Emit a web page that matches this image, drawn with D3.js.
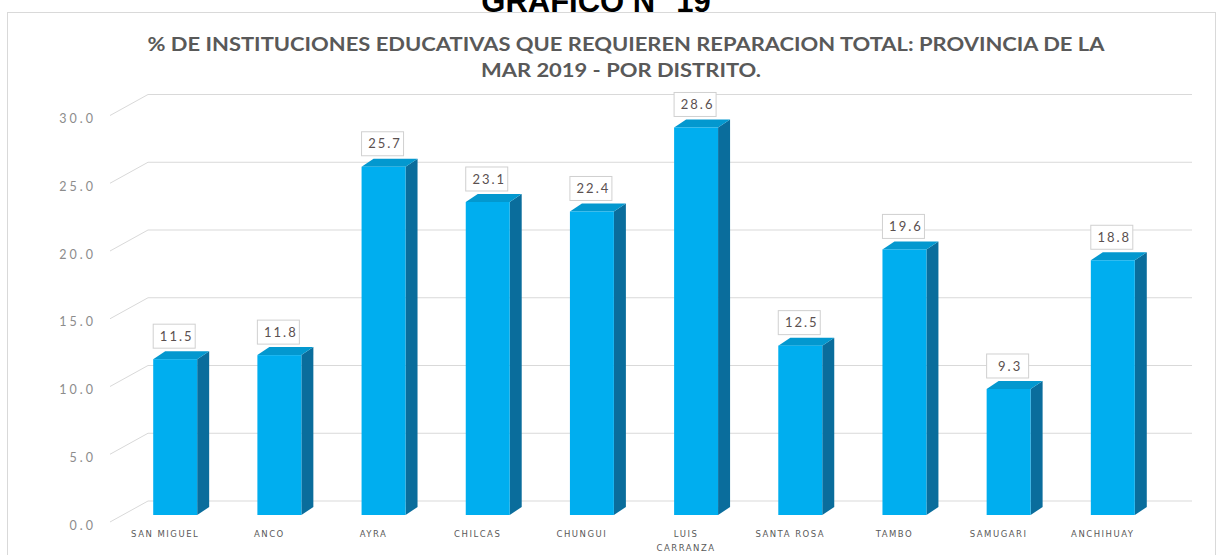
<!DOCTYPE html>
<html>
<head>
<meta charset="utf-8">
<script src="https://cdn.jsdelivr.net/npm/d3@7"></script>
<style>
  html, body { margin: 0; padding: 0; background: #fff; }
  svg { display: block; }
</style>
</head>
<body>
<svg id="chart" width="1224" height="555"></svg>
<script>
// ---- data ----
const categories = ["SAN MIGUEL", "ANCO", "AYRA", "CHILCAS", "CHUNGUI", "LUIS CARRANZA", "SANTA ROSA", "TAMBO", "SAMUGARI", "ANCHIHUAY"];
const values = [11.5, 11.8, 25.7, 23.1, 22.4, 28.6, 12.5, 19.6, 9.3, 18.8];
const yTicks = [0, 5, 10, 15, 20, 25, 30];
const topTitle = "GRAFICO N° 19";
const titleLines = ["% DE INSTITUCIONES EDUCATIVAS QUE REQUIEREN REPARACION TOTAL: PROVINCIA DE LA", "MAR 2019 - POR DISTRITO."];

const svg = d3.select("#chart");

// chart frame
svg.append("rect").attr("x", 7.5).attr("y", 12.5).attr("width", 1208).attr("height", 560)
  .attr("fill", "#fff").attr("stroke", "#d9d9d9").attr("stroke-width", 1);

// top heading (cut off by page top, as in the source)
svg.append("text").attr("x", 596).attr("y", 12).attr("text-anchor", "middle")
  .attr("font-family", "Liberation Sans, Arial, sans-serif").attr("font-weight", "bold")
  .attr("font-size", 31).attr("fill", "#000").text(topTitle);

// title (horizontally stretched like the source image)
const tScale = 1.22;
svg.append("g").attr("transform", `translate(626,0) scale(${tScale},1)`)
  .selectAll("text").data(titleLines).join("text")
  .attr("x", (d, i) => i === 0 ? 0 : -5 / tScale).attr("y", (d, i) => 51 + i * 26).attr("text-anchor", "middle")
  .attr("font-family", "Lato, 'Open Sans', sans-serif").attr("font-weight", "bold")
  .attr("font-size", 18).attr("fill", "#595959").text(d => d);

// scales
const y = d3.scaleLinear().domain([0, 30]).range([515, 515 - 30 * 13.55]);
const x = d3.scaleBand().domain(categories).range([123, 1165]).paddingInner(0.578).paddingOuter(0.29);

// perspective offsets
const wallFrontX = 110, wallBackX = 148, gridEndX = 1192;
const wallFrontDy = 7;     // wall front edge relative to bar front
const backDy = -14;        // back wall relative to bar front
const depthX = 12, depthY = -8;  // bar depth

// gridlines: back wall horizontal + diagonal side wall
const grid = svg.append("g").attr("stroke", "#d9d9d9").attr("stroke-width", 1).attr("fill", "none");
grid.selectAll("line.h").data(yTicks).join("line").attr("class", "h")
  .attr("x1", wallBackX).attr("x2", gridEndX)
  .attr("y1", d => y(d) + backDy).attr("y2", d => y(d) + backDy);
grid.selectAll("line.d").data(yTicks).join("line").attr("class", "d")
  .attr("x1", wallFrontX).attr("y1", d => y(d) + wallFrontDy)
  .attr("x2", wallBackX).attr("y2", d => y(d) + backDy);

// y axis labels
const yAxis = d3.axisLeft(y).tickValues(yTicks).tickFormat(d3.format(".1f")).tickSize(0).tickPadding(0);
const ga = svg.append("g").attr("transform", `translate(93,${wallFrontDy + 3})`).call(yAxis);
ga.select(".domain").remove();
ga.selectAll("text").attr("font-family", "Lato, 'Open Sans', sans-serif").attr("font-size", 12.5)
  .attr("letter-spacing", 3).attr("dx", 3).attr("fill", "#8c8c8c");

// bars
const bars = svg.append("g").selectAll("g").data(categories.map((c, i) => ({ c, v: values[i] }))).join("g");
const bw = x.bandwidth();
bars.append("path").attr("fill", "#0A6D9C")
  .attr("d", d => {
    const x1 = x(d.c) + bw, t = y(d.v), b = y(0);
    return `M${x1},${t}L${x1 + depthX},${t + depthY}L${x1 + depthX},${b + depthY}L${x1},${b}Z`;
  });
bars.append("path").attr("fill", "#0398CF")
  .attr("d", d => {
    const x0 = x(d.c), x1 = x0 + bw, t = y(d.v);
    return `M${x0},${t}L${x0 + depthX},${t + depthY}L${x1 + depthX},${t + depthY}L${x1},${t}Z`;
  });
bars.append("rect").attr("fill", "#00AEEF")
  .attr("x", d => x(d.c)).attr("width", bw)
  .attr("y", d => y(d.v)).attr("height", d => y(0) - y(d.v));

// value labels
const lab = svg.append("g").selectAll("g").data(categories.map((c, i) => ({ c, v: values[i] }))).join("g")
  .attr("transform", d => `translate(${x(d.c) + bw / 2 - 1},${y(d.v) - 23})`);
lab.append("rect").attr("x", -21).attr("y", -12).attr("width", 42).attr("height", 24)
  .attr("fill", "#fff").attr("stroke", "#d0d0d0").attr("stroke-width", 1);
lab.append("text").attr("text-anchor", "middle").attr("dy", "0.36em").attr("dx", 2.5)
  .attr("font-family", "Lato, 'Open Sans', sans-serif").attr("font-size", 13).attr("letter-spacing", 2)
  .attr("fill", "#5a5050")
  .text(d => d3.format(".1f")(d.v));

// category labels
const cl = svg.append("g").selectAll("text").data(categories).join("text")
  .attr("text-anchor", "middle")
  .attr("font-family", "'DejaVu Sans', sans-serif").attr("font-size", 8.5).attr("letter-spacing", 1.5)
  .attr("fill", "#595959");
cl.each(function (d) {
  const words = d === "LUIS CARRANZA" ? ["LUIS", "CARRANZA"] : [d];
  const t = d3.select(this);
  words.forEach((w, i) => {
    t.append("tspan").attr("x", x(d) + bw / 2 - 10).attr("y", 537 + i * 14).text(w);
  });
});
</script>
</body>
</html>
